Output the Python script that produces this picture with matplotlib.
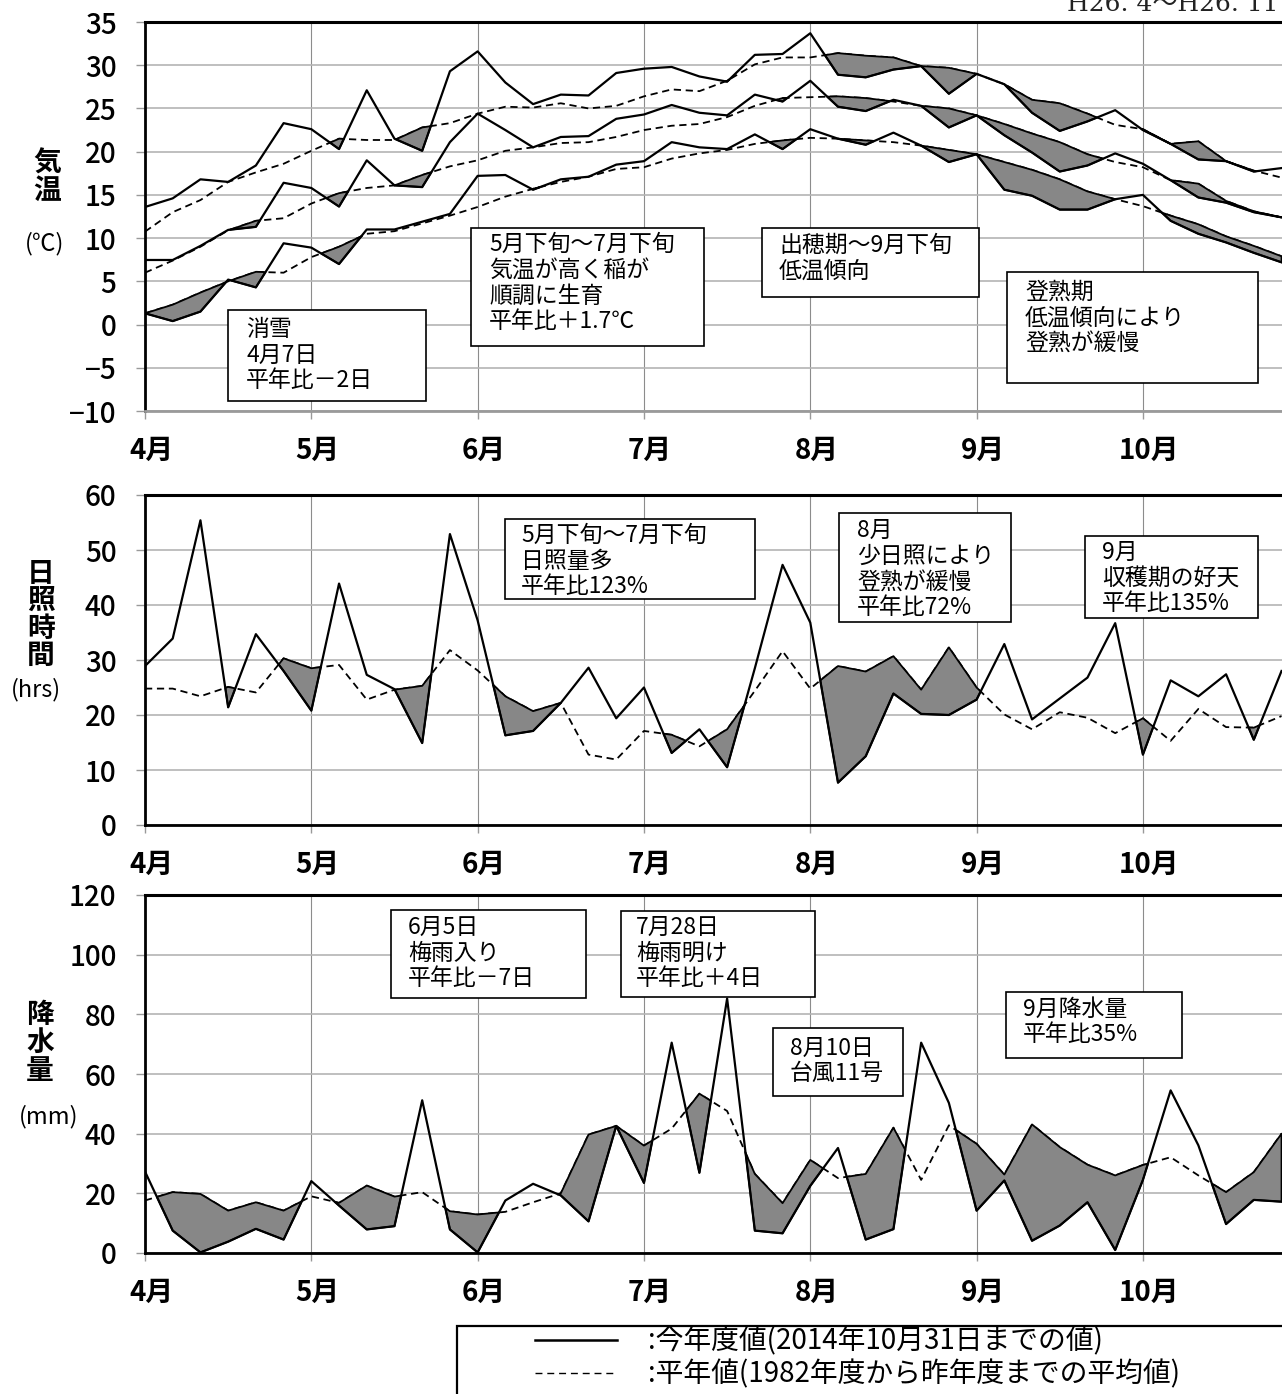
import matplotlib
matplotlib.use("Agg")
import matplotlib.pyplot as plt
import matplotlib.transforms as mtransforms
from matplotlib.patches import Rectangle
from matplotlib.lines import Line2D
import numpy as np

plt.rcParams['font.family'] = ['Noto Sans CJK JP', 'DejaVu Sans']

W, H = 1282, 1394

# half-decade (半旬) index, 6 per month, Apr 1 .. late Oct
x = np.arange(42)
month_pos = [0, 6, 12, 18, 24, 30, 36]
month_labels = ['4月', '5月', '6月', '7月', '8月', '9月', '10月']

# temperature (°C)
tmax = [13.6, 14.6, 16.8, 16.5, 18.4, 23.3, 22.6, 20.3, 27.1, 21.5, 20.1, 29.3, 31.6, 28.0,
        25.5, 26.6, 26.5, 29.1, 29.6, 29.8, 28.7, 28.1, 31.2, 31.3, 33.7, 28.9, 28.6, 29.5,
        29.9, 26.7, 29.0, 27.8, 24.5, 22.4, 23.5, 24.8, 22.5, 20.9, 19.1, 18.9, 17.7, 18.1]
tmax_norm = [10.75, 13.0, 14.4, 16.5, 17.6, 18.6, 20.1, 21.5, 21.35, 21.35, 22.8, 23.3, 24.4, 25.2,
             25.1, 25.6, 25.0, 25.3, 26.4, 27.2, 27.0, 28.2, 30.1, 30.9, 30.9, 31.4, 31.1, 30.9,
             29.9, 29.7, 29.0, 27.8, 26.0, 25.6, 24.4, 23.1, 22.6, 20.9, 21.2, 18.9, 17.8, 17.0]
tmean = [7.47, 7.47, 9.1, 10.95, 11.3, 16.4, 15.8, 13.65, 19.0, 16.1, 15.9, 21.1, 24.4, 22.5,
         20.5, 21.7, 21.8, 23.8, 24.3, 25.4, 24.5, 24.2, 26.6, 25.8, 28.2, 25.2, 24.7, 26.0,
         25.3, 22.8, 24.2, 21.9, 19.9, 17.7, 18.4, 19.8, 18.6, 16.7, 14.7, 14.1, 13.0, 12.4]
tmean_norm = [6.0, 7.4, 9.0, 10.9, 12.0, 12.3, 14.0, 15.2, 15.8, 16.1, 17.3, 18.3, 19.0, 20.1,
              20.5, 21.0, 21.1, 21.7, 22.5, 23.0, 23.2, 24.0, 25.3, 26.2, 26.3, 26.4, 26.2, 25.8,
              25.3, 25.0, 24.2, 23.2, 22.1, 21.1, 19.7, 18.8, 18.2, 16.7, 16.3, 14.3, 13.1, 12.4]
tmin = [1.3, 0.4, 1.5, 5.2, 4.3, 9.4, 8.9, 7.0, 11.0, 11.0, 11.9, 12.8, 17.2, 17.3,
        15.6, 16.8, 17.1, 18.5, 18.9, 21.1, 20.5, 20.3, 22.0, 20.3, 22.6, 21.5, 20.8, 22.2,
        20.7, 18.8, 19.7, 15.6, 14.9, 13.3, 13.3, 14.5, 15.0, 12.0, 10.5, 9.5, 8.3, 7.2]
tmin_norm = [1.3, 2.3, 3.7, 5.0, 6.1, 6.0, 7.8, 9.0, 10.5, 10.8, 11.7, 12.6, 13.6, 14.8,
             15.7, 16.5, 17.1, 18.0, 18.2, 19.2, 19.8, 20.2, 20.9, 21.3, 21.6, 21.5, 21.3, 21.1,
             20.7, 20.2, 19.7, 18.8, 17.9, 16.8, 15.4, 14.5, 13.7, 12.6, 11.6, 10.2, 9.1, 7.9]

# sunshine (hrs)
sun = [28.9, 33.9, 55.4, 21.4, 34.7, 28.0, 20.8, 43.9, 27.3, 24.7, 14.9, 52.9, 37.2, 16.3,
       17.1, 22.2, 28.6, 19.4, 25.0, 13.1, 17.4, 10.5, 28.5, 47.3, 36.8, 7.7, 12.5, 23.9,
       20.2, 20.0, 22.8, 32.9, 19.2, 23.0, 26.8, 36.7, 12.8, 26.3, 23.4, 27.4, 15.5, 28.0]
sun_norm = [24.8, 24.8, 23.4, 25.1, 24.1, 30.3, 28.5, 29.1, 22.8, 24.6, 25.3, 31.8, 28.1, 23.4,
            20.7, 22.2, 12.8, 11.9, 17.1, 16.4, 14.3, 17.4, 24.4, 31.6, 24.8, 28.9, 27.9, 30.7,
            24.6, 32.3, 25.0, 20.1, 17.4, 20.5, 19.5, 16.7, 19.4, 15.3, 21.1, 17.8, 17.7, 19.8]

# precipitation (mm)
rain = [27.3, 7.5, 0.2, 3.8, 8.1, 4.5, 24.1, 15.9, 7.9, 9.0, 51.2, 7.9, 0.2, 17.6,
        23.2, 19.3, 10.6, 42.6, 23.5, 70.5, 26.9, 85.3, 7.5, 6.6, 22.5, 35.2, 4.5, 8.0,
        70.5, 50.3, 14.2, 24.3, 4.1, 9.2, 17.0, 1.0, 24.5, 54.5, 36.1, 9.7, 17.8, 17.2]
rain_norm = [17.6, 20.4, 19.8, 14.2, 17.0, 14.2, 19.0, 16.8, 22.6, 18.9, 20.4, 14.0, 12.9, 13.8,
             17.0, 20.0, 39.7, 42.6, 36.0, 41.7, 53.4, 47.6, 26.5, 16.7, 31.2, 25.1, 26.5, 42.0,
             24.5, 42.8, 36.6, 26.3, 43.1, 35.5, 29.6, 26.0, 29.5, 32.1, 26.0, 20.4, 27.1, 40.0]

SHADE = "#878787"
GRID_H = "#b4b4b4"
GRID_V = "#8c8c8c"


def fig_rect(left, top, right, bottom):
    return [left / W, 1 - bottom / H, (right - left) / W, (bottom - top) / H]


def fx(px):
    return px / W


def fy(py):
    return 1 - py / H


def draw_panel(fig, ax, pairs, ylim, yticks, bottom_color):
    for obs, norm in pairs:
        obs = np.array(obs)
        norm = np.array(norm)
        # shade where this year's value is below normal
        ax.fill_between(x, norm, obs, where=obs < norm, interpolate=True,
                        facecolor=SHADE, edgecolor='black', linewidth=1.3, zorder=4)
        ax.plot(x, norm, color='black', lw=1.3, ls=(0, (4, 2.6)), zorder=3)
        ax.plot(x, obs, color='black', lw=1.6, zorder=5)

    ax.set_xlim(0, 42)
    ax.set_ylim(*ylim)
    ax.set_yticks(yticks)
    ax.set_yticklabels([f"{v:g}".replace('-', '\u2212') for v in yticks], fontweight='medium')
    ax.set_xticks(month_pos)
    ax.set_xticklabels(month_labels, fontweight='bold')
    ax.grid(axis='y', color=GRID_H, lw=1.2, zorder=1)
    ax.grid(axis='x', color=GRID_V, lw=0.8, zorder=1)
    ax.set_axisbelow(True)

    ax.tick_params(axis='y', length=6.5, width=1, color='#999999', pad=14, labelsize=20)
    ax.tick_params(axis='x', length=6, width=1, color='#999999', pad=13, labelsize=20)
    shift = mtransforms.ScaledTranslation(6 / 100, 0, fig.dpi_scale_trans)
    for lab in ax.get_xticklabels():
        lab.set_transform(lab.get_transform() + shift)

    ax.spines['left'].set_linewidth(2.0)
    ax.spines['top'].set_linewidth(2.2)
    ax.spines['bottom'].set_linewidth(2.0)
    ax.spines['bottom'].set_color(bottom_color)
    ax.spines['right'].set_visible(False)


def note_box(fig, left, top, right, bottom, text, tx, ty):
    fig.patches.append(Rectangle((fx(left), fy(bottom)), fx(right) - fx(left), fy(top) - fy(bottom),
                                 transform=fig.transFigure, facecolor='white',
                                 edgecolor='black', linewidth=1.2, zorder=6))
    fig.text(fx(tx), fy(ty), text, ha='left', va='center', fontsize=16.5,
             linespacing=1.15, zorder=7)


fig = plt.figure(figsize=(W / 100, H / 100), dpi=100)
fig.patch.set_facecolor('white')

axes_right = 145 + 42 * 27.72
ax1 = fig.add_axes(fig_rect(145, 22, axes_right, 411))
ax2 = fig.add_axes(fig_rect(145, 495, axes_right, 825))
ax3 = fig.add_axes(fig_rect(145, 895, axes_right, 1253))

draw_panel(fig, ax1, [(tmax, tmax_norm), (tmean, tmean_norm), (tmin, tmin_norm)],
           (-10, 35), list(range(-10, 36, 5)), '#9a9a9a')
draw_panel(fig, ax2, [(sun, sun_norm)], (0, 60), list(range(0, 61, 10)), 'black')
draw_panel(fig, ax3, [(rain, rain_norm)], (0, 120), list(range(0, 121, 20)), 'black')

# axis titles (vertical stacks)
fig.text(fx(47), fy(177), "気\n温", ha='center', va='center', fontsize=20,
         fontweight='bold', linespacing=0.98)
fig.text(fx(45), fy(244), "(℃)", ha='center', va='center', fontsize=17)
fig.text(fx(41), fy(615), "日\n照\n時\n間", ha='center', va='center', fontsize=20,
         fontweight='bold', linespacing=0.98)
fig.text(fx(36), fy(690), "(hrs)", ha='center', va='center', fontsize=17)
fig.text(fx(40), fy(1043), "降\n水\n量", ha='center', va='center', fontsize=20,
         fontweight='bold', linespacing=0.98)
fig.text(fx(49), fy(1117), "(mm)", ha='center', va='center', fontsize=17)

fig.text(fx(1278), fy(11), "H26. 4～H26. 11", ha='right', va='baseline', fontsize=18,
         family=['DejaVu Serif', 'Noto Sans CJK JP'], color='#222222')

# annotation boxes
note_box(fig, 228, 310, 426, 401, "消雪\n4月7日\n平年比－2日", 246, 355)
note_box(fig, 471, 228, 704, 346, "5月下旬～7月下旬\n気温が高く稲が\n順調に生育\n平年比＋1.7℃", 489, 283)
note_box(fig, 762, 228, 979, 297, "出穂期～9月下旬\n低温傾向", 779, 258)
note_box(fig, 1007, 272, 1258, 383, "登熟期\n低温傾向により\n登熟が緩慢", 1025, 318)

note_box(fig, 505, 519, 755, 599, "5月下旬～7月下旬\n日照量多\n平年比123%", 521, 561)
note_box(fig, 839, 513, 1011, 622, "8月\n少日照により\n登熟が緩慢\n平年比72%", 857, 569)
note_box(fig, 1085, 536, 1258, 618, "9月\n収穫期の好天\n平年比135%", 1102, 578)

note_box(fig, 391, 910, 586, 998, "6月5日\n梅雨入り\n平年比－7日", 408, 953)
note_box(fig, 621, 911, 815, 997, "7月28日\n梅雨明け\n平年比＋4日", 636, 953)
note_box(fig, 773, 1028, 903, 1096, "8月10日\n台風11号", 790, 1061)
note_box(fig, 1006, 992, 1182, 1058, "9月降水量\n平年比35%", 1023, 1022)

# legend box
fig.patches.append(Rectangle((fx(457), fy(1400)), fx(1300) - fx(457), fy(1326) - fy(1400),
                             transform=fig.transFigure, facecolor='white',
                             edgecolor='black', linewidth=1.6, zorder=6))
fig.lines.append(Line2D([fx(535), fx(617)], [fy(1340), fy(1340)], transform=fig.transFigure,
                        color='black', lw=1.8, zorder=7))
fig.lines.append(Line2D([fx(535), fx(617)], [fy(1373), fy(1373)], transform=fig.transFigure,
                        color='black', lw=1.0, ls=(0, (5, 3.5)), zorder=7))
fig.text(fx(648), fy(1341), ":今年度値(2014年10月31日までの値)", ha='left', va='center',
         fontsize=20, zorder=7)
fig.text(fx(648), fy(1374), ":平年値(1982年度から昨年度までの平均値)", ha='left', va='center',
         fontsize=20, zorder=7)

fig.savefig("out.png", dpi=100, facecolor='white')
